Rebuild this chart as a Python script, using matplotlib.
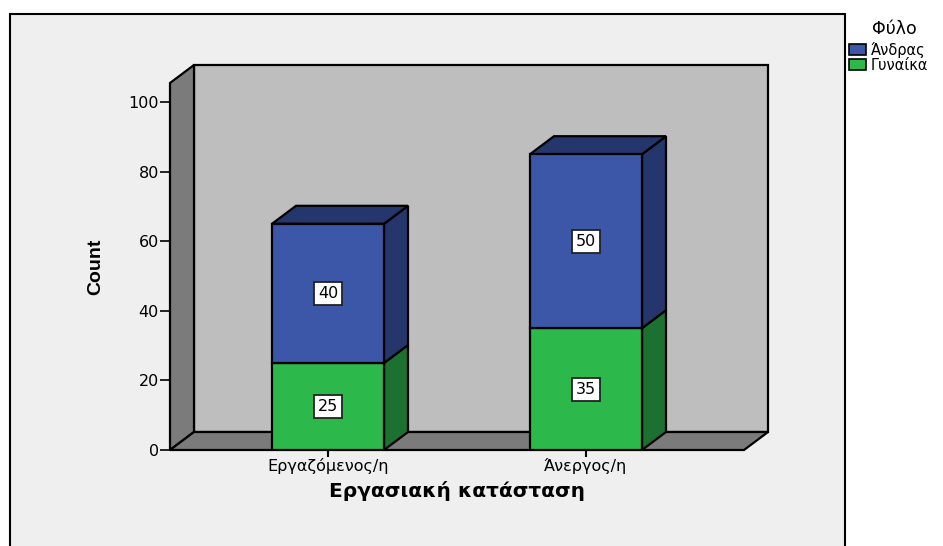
'''Stacked 3D look bars, count by employment status and sex.'''

import matplotlib
matplotlib.use('Agg')
import matplotlib.pyplot as plt
from matplotlib.patches import Polygon, Rectangle

categories = ['Εργαζόμενος/η', 'Άνεργος/η']
andras = [40, 50]
gynaika = [25, 35]
y_ticks = [0, 20, 40, 60, 80, 100]

W, H = 943, 546
# colours
BLUE, BLUE_DARK = '#3d57a8', '#24366c'
GREEN, GREEN_DARK = '#2db84b', '#1c7030'
PANEL, WALL, FLOOR = '#efefef', '#bebebe', '#7b7b7b'

plt.rcParams['font.family'] = ['DejaVu Sans']
fig = plt.figure(figsize=(W / 100, H / 100), dpi=100, facecolor='white')

# grey panel behind the chart, runs off the bottom
fig.patches.append(Rectangle((9.5 / W, -0.02), (845 - 9.5) / W, 1.02 - 13.5 / H,
                             transform=fig.transFigure, facecolor=PANEL,
                             edgecolor='black', linewidth=1.5, zorder=-1))

# axes box = the front plane of the 3D box
left, right, y0, y100 = 170, 744, 450, 102
px_y = (y0 - y100) / 100
px_x = 258
ax = fig.add_axes([left / W, 1 - y0 / H, (right - left) / W, (y0 - 83) / H])
ax.set_xlim((left - 328) / px_x, (right - 328) / px_x)
ax.set_ylim(0, (y0 - 83) / px_y)
ax.patch.set_visible(False)
for s in ax.spines.values():
    s.set_visible(False)

dx = 24 / px_x
dy = 18 / px_y
xl, xr = ax.get_xlim()
ytop = ax.get_ylim()[1]
box = dict(edgecolor='black', linewidth=1.6, clip_on=False, joinstyle='miter')

ax.add_patch(Polygon([(xl + dx, dy), (xr + dx, dy), (xr + dx, ytop + dy), (xl + dx, ytop + dy)],
                     facecolor=WALL, zorder=1, **box))
ax.add_patch(Polygon([(xl, 0), (xl + dx, dy), (xl + dx, ytop + dy), (xl, ytop)],
                     facecolor=FLOOR, zorder=1, **box))
ax.add_patch(Polygon([(xl, 0), (xr, 0), (xr + dx, dy), (xl + dx, dy)],
                     facecolor=FLOOR, zorder=1, **box))

width = 112 / px_x


def draw_segment(x, bottom, value, front, side, top_face=None):
    '''one stacked block with its side and optional top'''
    a, b = x - width / 2, x + width / 2
    t = bottom + value
    ax.add_patch(Polygon([(b, bottom), (b + dx, bottom + dy), (b + dx, t + dy), (b, t)],
                         facecolor=side, zorder=3, **box))
    if top_face:
        ax.add_patch(Polygon([(a, t), (b, t), (b + dx, t + dy), (a + dx, t + dy)],
                             facecolor=top_face, zorder=3, **box))
    ax.bar(x, value, width, bottom=bottom, color=front, edgecolor='black',
           linewidth=1.6, zorder=4)
    ax.text(x, bottom + value / 2, str(value), ha='center', va='center', fontsize=11.5,
            color='black', zorder=6,
            bbox=dict(boxstyle='square,pad=0.25', facecolor='white', edgecolor='#222222',
                      linewidth=1.3))


for i in range(len(categories)):
    draw_segment(i, 0, gynaika[i], GREEN, GREEN_DARK)
    draw_segment(i, gynaika[i], andras[i], BLUE, BLUE_DARK, BLUE_DARK)

ax.set_yticks(y_ticks)
ax.set_xticks(range(len(categories)))
ax.set_xticklabels(categories)
ax.tick_params(axis='y', length=7, width=1.2, labelsize=11.5, pad=1)
ax.tick_params(axis='x', length=5, width=1.5, labelsize=11.5, pad=1, colors='black')
ax.set_xlabel('Εργασιακή κατάσταση', fontsize=14.5, fontweight='bold', labelpad=5)

fig.text(96 / W, 1 - 267 / H, 'Count', rotation=90, ha='center', va='center',
         fontsize=14, fontweight='bold', family=['Liberation Sans', 'DejaVu Sans'])

# legend by hand, placed like the original
fig.text(894 / W, 1 - 29 / H, 'Φύλο', ha='center', va='center', fontsize=12.5)
labels = ['Άνδρας', 'Γυναίκα']
for y, col, lab in zip([44, 59], [BLUE, GREEN], labels):
    fig.patches.append(Rectangle((848.5 / W, 1 - (y + 11) / H), 17 / W, 11 / H,
                                 transform=fig.transFigure, facecolor=col,
                                 edgecolor='black', linewidth=1.2))
    fig.text(871 / W, 1 - (y + 6.5) / H, lab, ha='left', va='center', fontsize=10.5)

fig.savefig('out.png', dpi=100)
